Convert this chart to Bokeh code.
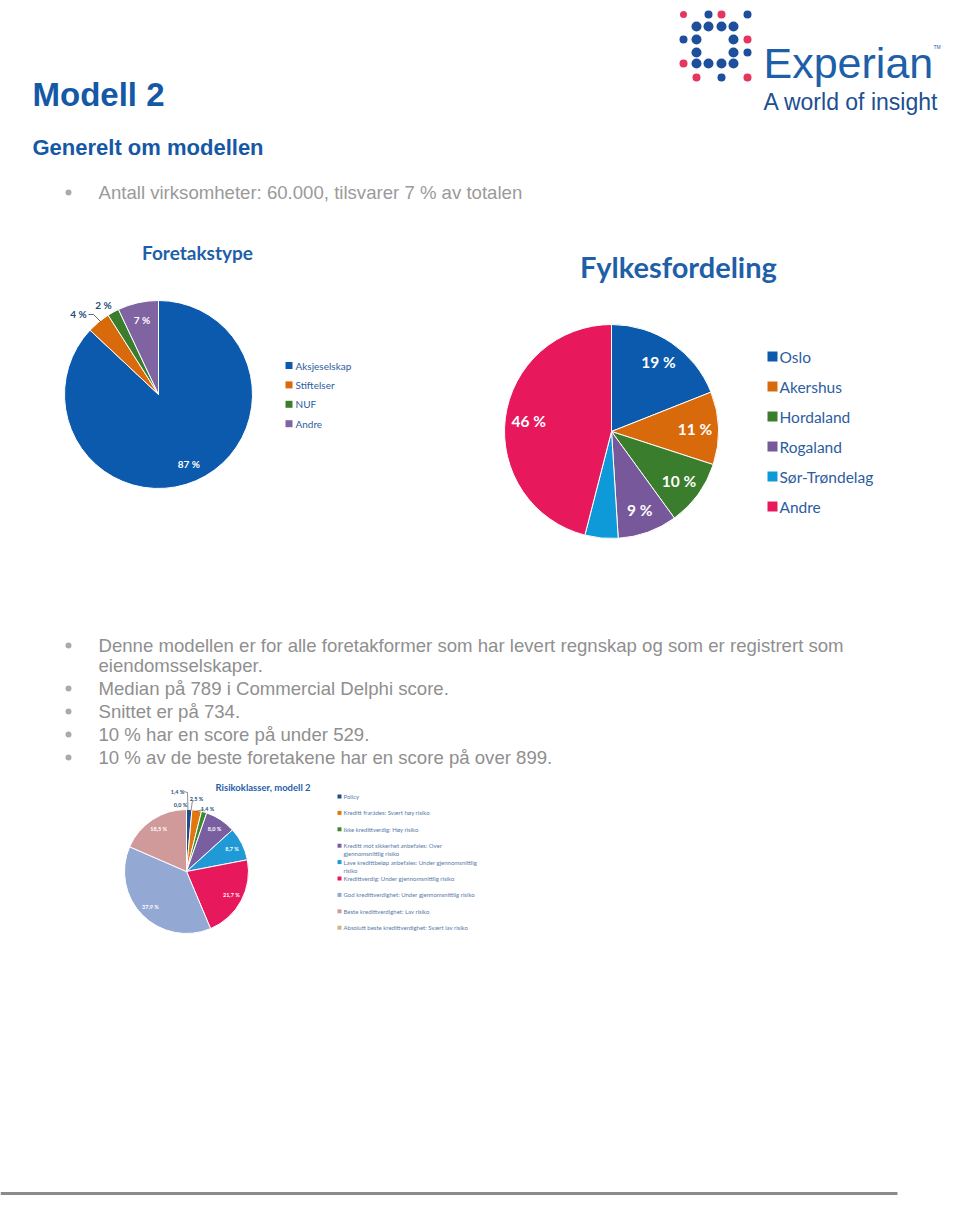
import math
from bokeh.plotting import figure
from bokeh.models import Range1d
from bokeh.core.properties import value
from bokeh.embed import file_html
from bokeh.resources import INLINE

# ---------------- data ----------------
foretak_labels = ["Aksjeselskap", "Stiftelser", "NUF", "Andre"]
foretak_values = [87, 4, 2, 7]
foretak_colors = ["#0b5aad", "#d86a0c", "#3a7d2c", "#8064a2"]

fylke_labels = ["Oslo", "Akershus", "Hordaland", "Rogaland", "Sør-Trøndelag", "Andre"]
fylke_values = [19, 11, 10, 9, 5, 46]
fylke_show = [True, True, True, True, False, True]
fylke_colors = ["#0b5aad", "#d86a0c", "#3a7d2c", "#76589b", "#0e9ad8", "#e8185d"]

risiko_labels = ["Policy",
                 "Kreditt frarådes: Svært høy risiko",
                 "Ikke kredittverdig: Høy risiko",
                 "Kreditt mot sikkerhet anbefales: Over\ngjennomsnittlig risiko",
                 "Lave kredittbeløp anbefales: Under gjennomsnittlig\nrisiko",
                 "Kredittverdig: Under gjennomsnittlig risiko",
                 "God kredittverdighet: Under gjennomsnittlig risiko",
                 "Beste kredittverdighet: Lav risiko",
                 "Absolutt beste kredittverdighet: Svært lav risiko"]
risiko_values = [1.4, 2.5, 1.4, 8.0, 8.7, 21.7, 37.9, 18.5, 0.0]
risiko_colors = ["#1f4e8c", "#e0780f", "#3b8a2f", "#7a5fa0", "#1f9ad6",
                 "#e8185d", "#94a8d4", "#d19a9a", "#c9bb7f"]

title = "Modell 2"
subtitle = "Generelt om modellen"
intro_bullets = ["Antall virksomheter: 60.000, tilsvarer 7 % av totalen"]
body_bullets = [["Denne modellen er for alle foretakformer som har levert regnskap og som er registrert som",
                 "eiendomsselskaper."],
                ["Median på 789 i Commercial Delphi score."],
                ["Snittet er på 734."],
                ["10 % har en score på under 529."],
                ["10 % av de beste foretakene har en score på over 899."]]

# ---------------- figure ----------------
p = figure(width=944, height=1195, x_range=Range1d(0, 944), y_range=Range1d(-1195, 0),
           output_backend="svg", toolbar_location=None, min_border=0,
           x_axis_type=None, y_axis_type=None)
p.grid.visible = False
p.outline_line_color = None
p.background_fill_color = "white"

ARIAL = "Liberation Sans"
CAL = "Lato"


def T(x, y, text, size, color, font=ARIAL, style="normal", align="left", baseline="middle"):
    p.text(x=[x], y=[-y], text=[text], text_font=value(font), text_font_size=f"{size}px",
           text_color=color, text_font_style=style, text_align=align, text_baseline=baseline)


def pie(cx, cy, r, vals, colors):
    total = float(sum(vals))
    cum = 0.0
    xs, ys, st, en, cols, mids = [], [], [], [], [], []
    for v, c in zip(vals, colors):
        f0 = cum / total
        cum += v
        f1 = cum / total
        a0 = math.pi / 2 - 2 * math.pi * f0
        a1 = math.pi / 2 - 2 * math.pi * f1
        mids.append((a0 + a1) / 2)
        if v > 0:
            xs.append(cx); ys.append(-cy); st.append(a0); en.append(a1); cols.append(c)
    p.wedge(x=xs, y=ys, radius=r, radius_units="screen", start_angle=st, end_angle=en,
            direction="clock", fill_color=cols, line_color="white", line_width=1)
    return mids


def lpos(cx, cy, r, ang, k):
    return cx + k * r * math.cos(ang), cy - k * r * math.sin(ang)


# ---------------- logo ----------------
LB, LR = "#1d4f9c", "#e5375e"
cols_x = [683, 696, 708, 721, 733, 747]
rows_y = [14, 26, 39, 52, 63, 77]
logo = [(0, 0, LR, 7), (2, 0, LB, 8), (3, 0, LR, 8), (5, 0, LB, 8),
        (1, 1, LB, 10), (2, 1, LB, 10), (3, 1, LB, 10), (4, 1, LB, 10),
        (0, 2, LB, 8), (1, 2, LB, 10), (4, 2, LB, 10), (5, 2, LR, 8),
        (1, 3, LB, 10), (4, 3, LB, 10), (5, 3, LB, 8),
        (0, 4, LR, 8), (1, 4, LB, 10), (2, 4, LB, 10), (3, 4, LB, 10), (4, 4, LB, 10),
        (1, 5, LR, 8), (3, 5, LB, 8), (5, 5, LR, 8)]
p.scatter(x=[cols_x[c] for c, r_, _, _ in logo], y=[-rows_y[r_] for c, r_, _, _ in logo],
          size=[s for _, _, _, s in logo], color=[col for _, _, col, _ in logo], line_color=None)
T(763, 62, "Experian", 43, "#1d5fa8", baseline="alphabetic")
T(933, 46, "TM", 5, "#1d5fa8", baseline="alphabetic")
T(763, 101, "A world of insight", 23, "#1d4f91", baseline="alphabetic")

# ---------------- headings ----------------
BLUE = "#1458a6"
T(32, 94, title, 33, BLUE, style="bold")
T(32, 147, subtitle, 22, BLUE, style="bold")
p.scatter(x=[68], y=[-192], size=6, color="#aaaaaa", line_color=None)
T(98, 192, intro_bullets[0], 18.6, "#9a9a9a")

# ---------------- chart 1: Foretakstype ----------------
T(197, 252, "Foretakstype", 19, "#1f5fa8", font=CAL, style="bold", align="center")
c1x, c1y, r1 = 158, 394, 94
m1 = pie(c1x, c1y, r1, foretak_values, foretak_colors)
inside1 = [True, False, False, True]
out_pos1 = {1: (78, 313), 2: (103, 304)}
for i, v in enumerate(foretak_values):
    txt = f"{v:g} %"
    if inside1[i]:
        lx, ly = lpos(c1x, c1y, r1, m1[i], 0.81)
        T(lx, ly, txt, 10, "white", font=CAL, style="bold", align="center")
    else:
        lx, ly = out_pos1[i]
        T(lx, ly, txt, 10, "#1f4e79", font=CAL, style="bold", align="center")
# leader for 4 %
p.line(x=[88, 93, 100], y=[-314, -314, -321], line_color="#404040", line_width=0.8)
for i, lab in enumerate(foretak_labels):
    yy = 365 + 19.4 * i
    p.rect(x=[288.5], y=[-yy], width=7, height=7, width_units="screen", height_units="screen",
           fill_color=foretak_colors[i], line_color=None)
    T(295, yy, lab, 10, "#2c5da0", font=CAL)

# ---------------- chart 2: Fylkesfordeling ----------------
T(678, 266, "Fylkesfordeling", 29, "#1f5fa8", font=CAL, style="bold", align="center")
c2x, c2y, r2 = 611, 431, 107
m2 = pie(c2x, c2y, r2, fylke_values, fylke_colors)
for i, v in enumerate(fylke_values):
    if fylke_show[i]:
        lx, ly = lpos(c2x, c2y, r2, m2[i], 0.78)
        T(lx, ly, f"{v:g} %", 15.5, "white", font=CAL, style="bold", align="center")
for i, lab in enumerate(fylke_labels):
    yy = 356 + 30 * i
    p.rect(x=[772], y=[-yy], width=10, height=10, width_units="screen", height_units="screen",
           fill_color=fylke_colors[i], line_color=None)
    T(779, yy, lab, 15.5, "#2c5da0", font=CAL)

# ---------------- body bullets ----------------
yb = 645
for lines in body_bullets:
    p.scatter(x=[68], y=[-yb], size=6, color="#aaaaaa", line_color=None)
    for j, ln in enumerate(lines):
        T(98, yb, ln, 18.6, "#8f8f8f")
        yb += 20 if j < len(lines) - 1 else 0
    yb += 23

# ---------------- chart 3: Risikoklasser ----------------
T(215, 787, "Risikoklasser, modell 2", 9.5, "#1f5fa8", font=CAL, style="bold")
c3x, c3y, r3 = 186, 871, 62
m3 = pie(c3x, c3y, r3, risiko_values, risiko_colors)
out_pos3 = {0: (177, 791), 1: (196, 798), 2: (207, 808), 8: (180, 804)}
for i, v in enumerate(risiko_values):
    txt = f"{v:.1f} %".replace(".", ",")
    if i in out_pos3:
        lx, ly = out_pos3[i]
        T(lx, ly, txt, 5.5, "#1f4e79", font=CAL, style="bold", align="center")
    else:
        lx, ly = lpos(c3x, c3y, r3, m3[i], 0.82)
        T(lx, ly, txt, 5.5, "white", font=CAL, style="bold", align="center")
p.line(x=[183, 187, 187.5], y=[-791, -792, -810], line_color="#404040", line_width=0.6)
p.line(x=[192, 190.5], y=[-800, -810], line_color="#404040", line_width=0.6)
p.line(x=[203, 195], y=[-809, -811], line_color="#404040", line_width=0.6)
for i, lab in enumerate(risiko_labels):
    yy = 796 + 16.4 * i
    p.rect(x=[339], y=[-yy], width=4, height=4, width_units="screen", height_units="screen",
           fill_color=risiko_colors[i], line_color=None)
    for j, part in enumerate(lab.split("\n")):
        T(343, yy + 8 * j, part, 6, "#5a7aa8", font=CAL)

# ---------------- bottom rule ----------------
p.line(x=[0, 897], y=[-1193, -1193], line_color="#8a8a8a", line_width=3)

open("out.html", "w").write(file_html(p, INLINE))
